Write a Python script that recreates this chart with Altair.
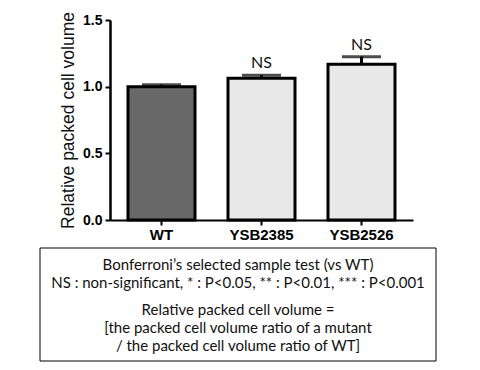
import altair as alt
import pandas as pd

strains = ["WT", "YSB2385", "YSB2526"]
means = [1.0, 1.063, 1.168]
uppers = [1.015, 1.085, 1.225]
sig = ["", "NS", "NS"]
fills = ["#686868", "#e8e8e8", "#e8e8e8"]

note_lines = [
    "Bonferroni\u2019s selected sample test (vs WT)",
    "NS : non-significant, * : P<0.05, ** : P<0.01, *** : P<0.001",
    "Relative packed cell volume =",
    "[the packed cell volume ratio of a mutant",
    "/ the packed cell volume ratio of WT]",
]

df = pd.DataFrame({"strain": strains, "mean": means, "upper": uppers, "sig": sig, "fill": fills})

xenc = alt.X("strain:N", sort=strains, title=None,
             scale=alt.Scale(paddingInner=0.33, paddingOuter=0.18),
             axis=alt.Axis(labelAngle=0, labelFont="Liberation Sans", labelFontWeight="bold",
                           labelFontSize=15, labelColor="black", labelPadding=2,
                           domainColor="black", domainWidth=2, tickColor="black",
                           tickWidth=2, tickSize=5))
yscale = alt.Scale(domain=[0, 1.5], nice=False)
yaxis = alt.Axis(values=[0, 0.5, 1.0, 1.5], format=".1f", grid=False,
                 labelFont="Liberation Sans", labelFontWeight="bold", labelFontSize=14,
                 labelColor="black", labelPadding=3, domainColor="black", domainWidth=2.5,
                 tickColor="black", tickWidth=2, tickSize=5,
                 title="Relative packed cell volume", titleFont="Liberation Sans",
                 titleFontSize=17.5, titleFontWeight="normal", titleColor="#111",
                 titlePadding=5)

base = alt.Chart(df)

bars = base.mark_bar(stroke="black", strokeWidth=3).encode(
    x=xenc,
    y=alt.Y("mean:Q", scale=yscale, axis=yaxis),
    fill=alt.Fill("fill:N", scale=None),
)
err = base.mark_rule(color="black", strokeWidth=3).encode(
    x=alt.X("strain:N", sort=strains), y="mean:Q", y2="upper:Q")
cap = base.mark_tick(color="black", thickness=3, size=39).encode(
    x=alt.X("strain:N", sort=strains), y="upper:Q")
ns = base.mark_text(font="Lato", fontSize=16, color="#111", baseline="bottom", dy=-4).encode(
    x=alt.X("strain:N", sort=strains), y="upper:Q", text="sig:N")

box = alt.Chart(pd.DataFrame({"a": [0]})).mark_rect(
    fill="white", fillOpacity=0, stroke="black", strokeWidth=1).encode(
    x=alt.value(-70), x2=alt.value(326), y=alt.value(228), y2=alt.value(341))

line_y = [245, 263, 290, 308, 326]
texts = []
for t, yy in zip(note_lines, line_y):
    texts.append(
        alt.Chart(pd.DataFrame({"t": [t]})).mark_text(
            font="Lato", fontSize=15, color="#111", align="center", baseline="middle").encode(
            x=alt.value(128), y=alt.value(yy), text="t:N"))

chart = alt.layer(bars, err, cap, ns, box, *texts).properties(
    width=303, height=200,
    autosize=alt.AutoSizeParams(type="none"),
    padding={"left": 102, "top": 12, "right": 50, "bottom": 142},
).configure_view(stroke=None)

chart.save("out.html", embed_options={"renderer": "svg", "actions": False})
